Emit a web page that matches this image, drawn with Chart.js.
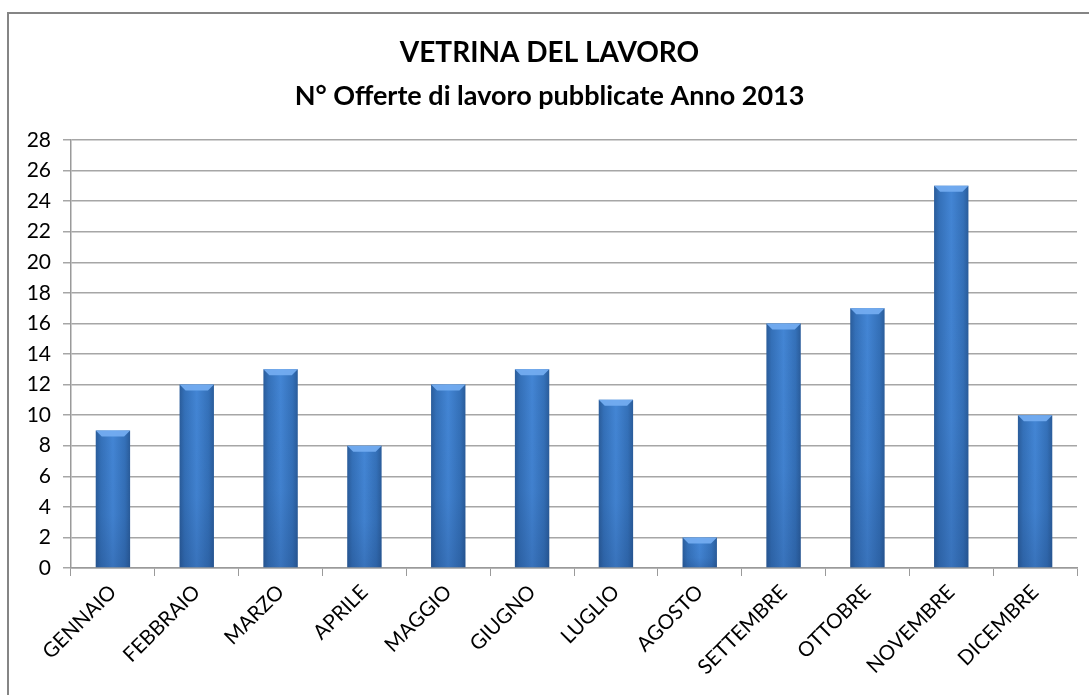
<!DOCTYPE html>
<html>
<head>
<meta charset="utf-8">
<script src="https://cdn.jsdelivr.net/npm/chart.js@4"></script>
<style>
    html, body { margin: 0; padding: 0; background: #fff; }
    #wrap { position: relative; width: 1089px; height: 695px; }
    #frame {
        position: absolute; left: 7px; top: 12px; right: 0; bottom: 0;
        border-top: 2px solid #858585; border-left: 2px solid #858585;
    }
    canvas { position: absolute; left: 0; top: 0; }
</style>
</head>
<body>
<div id="wrap">
    <div id="frame"></div>
    <canvas id="chart" width="1089" height="695"></canvas>
</div>
<script>
// Dati
const mesi = ['GENNAIO', 'FEBBRAIO', 'MARZO', 'APRILE', 'MAGGIO', 'GIUGNO',
    'LUGLIO', 'AGOSTO', 'SETTEMBRE', 'OTTOBRE', 'NOVEMBRE', 'DICEMBRE'];
const offerte = [9, 12, 13, 8, 12, 13, 11, 2, 16, 17, 25, 10];
const titolo = 'VETRINA DEL LAVORO';
const sottotitolo = 'N° Offerte di lavoro pubblicate Anno 2013';

const fontFamily = 'Lato, "Open Sans", sans-serif';
const barPct = 0.41;

// gradiente orizzontale per ogni barra (bordi scuri, centro chiaro)
function barGradient(context) {
    const chart = context.chart;
    const xs = chart.scales && chart.scales.x;
    if (!xs || !xs.width || context.dataIndex === undefined) return '#3a78c4';
    const cx = xs.getPixelForValue(context.dataIndex);
    const w = xs.width / mesi.length * barPct;
    const left = cx - w / 2;
    const g = chart.ctx.createLinearGradient(left, 0, left + w, 0);
    g.addColorStop(0, '#2a5c9a');
    g.addColorStop(0.15, '#3470b8');
    g.addColorStop(0.5, '#4385d4');
    g.addColorStop(0.85, '#3470b8');
    g.addColorStop(1, '#2a5c9a');
    return g;
}

// cappello smussato in cima alle barre
const bevelPlugin = {
    id: 'bevel',
    afterDatasetsDraw(chart) {
        const ctx = chart.ctx;
        const meta = chart.getDatasetMeta(0);
        ctx.save();
        meta.data.forEach(bar => {
            const l = bar.x - bar.width / 2;
            const r = bar.x + bar.width / 2;
            const t = bar.y;
            const d = 6;
            // ombra verso la base
            const h = bar.base - t - d;
            if (h > 0) {
                const g = ctx.createLinearGradient(0, t + d, 0, bar.base);
                g.addColorStop(0, 'rgba(20, 50, 100, 0)');
                g.addColorStop(0.6, 'rgba(20, 50, 100, 0.05)');
                g.addColorStop(1, 'rgba(20, 50, 100, 0.22)');
                ctx.fillStyle = g;
                ctx.fillRect(l, t + d, bar.width, h);
            }
            ctx.beginPath();
            ctx.moveTo(l, t);
            ctx.lineTo(r, t);
            ctx.lineTo(r - d, t + d);
            ctx.lineTo(l + d, t + d);
            ctx.closePath();
            ctx.fillStyle = 'rgba(115, 172, 240, 0.95)';
            ctx.fill();
        });
        ctx.restore();
    }
};

new Chart(document.getElementById('chart'), {
    type: 'bar',
    data: {
        labels: mesi,
        datasets: [{
            label: 'Offerte',
            data: offerte,
            backgroundColor: barGradient,
            borderWidth: 0,
            categoryPercentage: 1,
            barPercentage: barPct
        }]
    },
    options: {
        responsive: false,
        animation: false,
        devicePixelRatio: 1,
        layout: { padding: { left: 22, right: 12, top: 0, bottom: 0 } },
        plugins: {
            legend: { display: false },
            tooltip: { enabled: false },
            title: {
                display: true,
                text: titolo,
                color: '#000',
                font: { family: fontFamily, size: 28, weight: 'bold' },
                padding: { top: 36, bottom: 10 }
            },
            subtitle: {
                display: true,
                text: sottotitolo,
                color: '#000',
                font: { family: fontFamily, size: 27, weight: 'bold' },
                padding: { top: 0, bottom: 28 }
            }
        },
        scales: {
            x: {
                grid: {
                    drawOnChartArea: false,
                    drawTicks: true,
                    tickLength: 8,
                    color: '#9a9a9a',
                    offset: true
                },
                border: { display: true, color: '#9a9a9a', width: 1.5 },
                ticks: {
                    color: '#000',
                    font: { family: fontFamily, size: 20.5 },
                    maxRotation: 45,
                    minRotation: 45,
                    autoSkip: false,
                    padding: 4
                },
                afterFit(scale) { scale.height = 127; }
            },
            y: {
                min: 0,
                max: 28,
                ticks: {
                    stepSize: 2,
                    color: '#000',
                    font: { family: fontFamily, size: 21 },
                    padding: 12
                },
                grid: { color: '#a6a6a6', lineWidth: 1.5, tickLength: 8 },
                border: { display: true, color: '#9a9a9a', width: 1.5 },
                afterFit(scale) { scale.width = 49; }
            }
        }
    },
    plugins: [bevelPlugin]
});
</script>
</body>
</html>
